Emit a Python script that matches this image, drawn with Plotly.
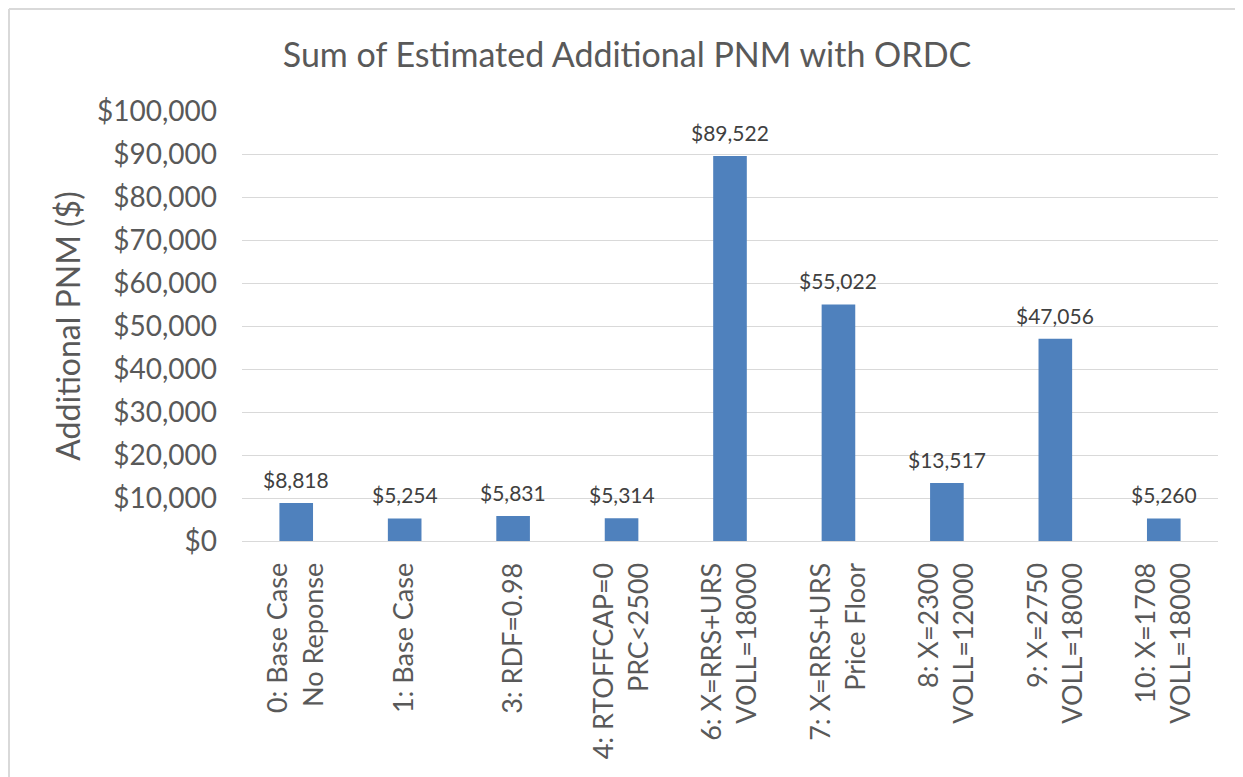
import plotly.graph_objects as go

categories = [
    "0: Base Case<br>No Reponse",
    "1: Base Case",
    "3: RDF=0.98",
    "4: RTOFFCAP=0<br>PRC<2500",
    "6: X=RRS+URS<br>VOLL=18000",
    "7: X=RRS+URS<br>Price Floor",
    "8: X=2300<br>VOLL=12000",
    "9: X=2750<br>VOLL=18000",
    "10: X=1708<br>VOLL=18000",
]
values = [8818, 5254, 5831, 5314, 89522, 55022, 13517, 47056, 5260]
y_ticks = list(range(0, 100001, 10000))
y_tick_labels = ["${:,}".format(v) for v in y_ticks]

FONT = "Lato"
GRAY = "#595959"

W, H = 1235, 769
ML, MT, PW, PH = 234, 103, 976, 430

fig = go.Figure()
fig.add_trace(go.Bar(
    x=categories,
    y=values,
    marker=dict(color="#4F81BD", line=dict(width=0)),
    width=0.31,
    cliponaxis=False,
))

for c, v in zip(categories, values):
    fig.add_annotation(x=c, y=v, xref="x", yref="y", text="${:,}".format(v),
                       showarrow=False, yanchor="bottom", yshift=9,
                       font=dict(family=FONT, size=21, color="#404040"))

fig.update_layout(
    width=W, height=H,
    paper_bgcolor="white", plot_bgcolor="white",
    margin=dict(l=ML, r=W - ML - PW, t=MT, b=H - MT - PH),
    title=dict(text="Sum of Estimated Additional PNM with ORDC",
               x=(627 - 8) / W, xanchor="center", y=1 - 47 / H, yanchor="middle",
               font=dict(family=FONT, size=34, color=GRAY)),
    showlegend=False,
)
fig.update_yaxes(
    range=[0, 100000],
    tickvals=y_ticks, ticktext=y_tick_labels,
    tickfont=dict(family=FONT, size=28, color=GRAY),
    gridcolor="#D9D9D9", gridwidth=1,
    zeroline=False, showline=False,
    ticklabelstandoff=24,
    title=dict(text="Additional PNM ($)", font=dict(family=FONT, size=32, color=GRAY), standoff=6),
)
fig.update_xaxes(
    tickangle=-90,
    tickfont=dict(family=FONT, size=27, color=GRAY),
    showline=True, linecolor="#D9D9D9", linewidth=1,
    showgrid=False,
    ticklabelstandoff=10,
)

# outer chart frame (top and left edges)
ytop = 1 + (MT - 1) / PH
xleft = (1 - ML) / PW
fig.add_shape(type="line", xref="paper", yref="paper",
              x0=xleft, x1=(W + 10 - ML) / PW, y0=ytop, y1=ytop,
              line=dict(color="#D9D9D9", width=2))
fig.add_shape(type="line", xref="paper", yref="paper",
              x0=xleft, x1=xleft, y0=ytop, y1=-(H + 10 - MT - PH) / PH,
              line=dict(color="#D9D9D9", width=2))

fig.write_html("out.html")
